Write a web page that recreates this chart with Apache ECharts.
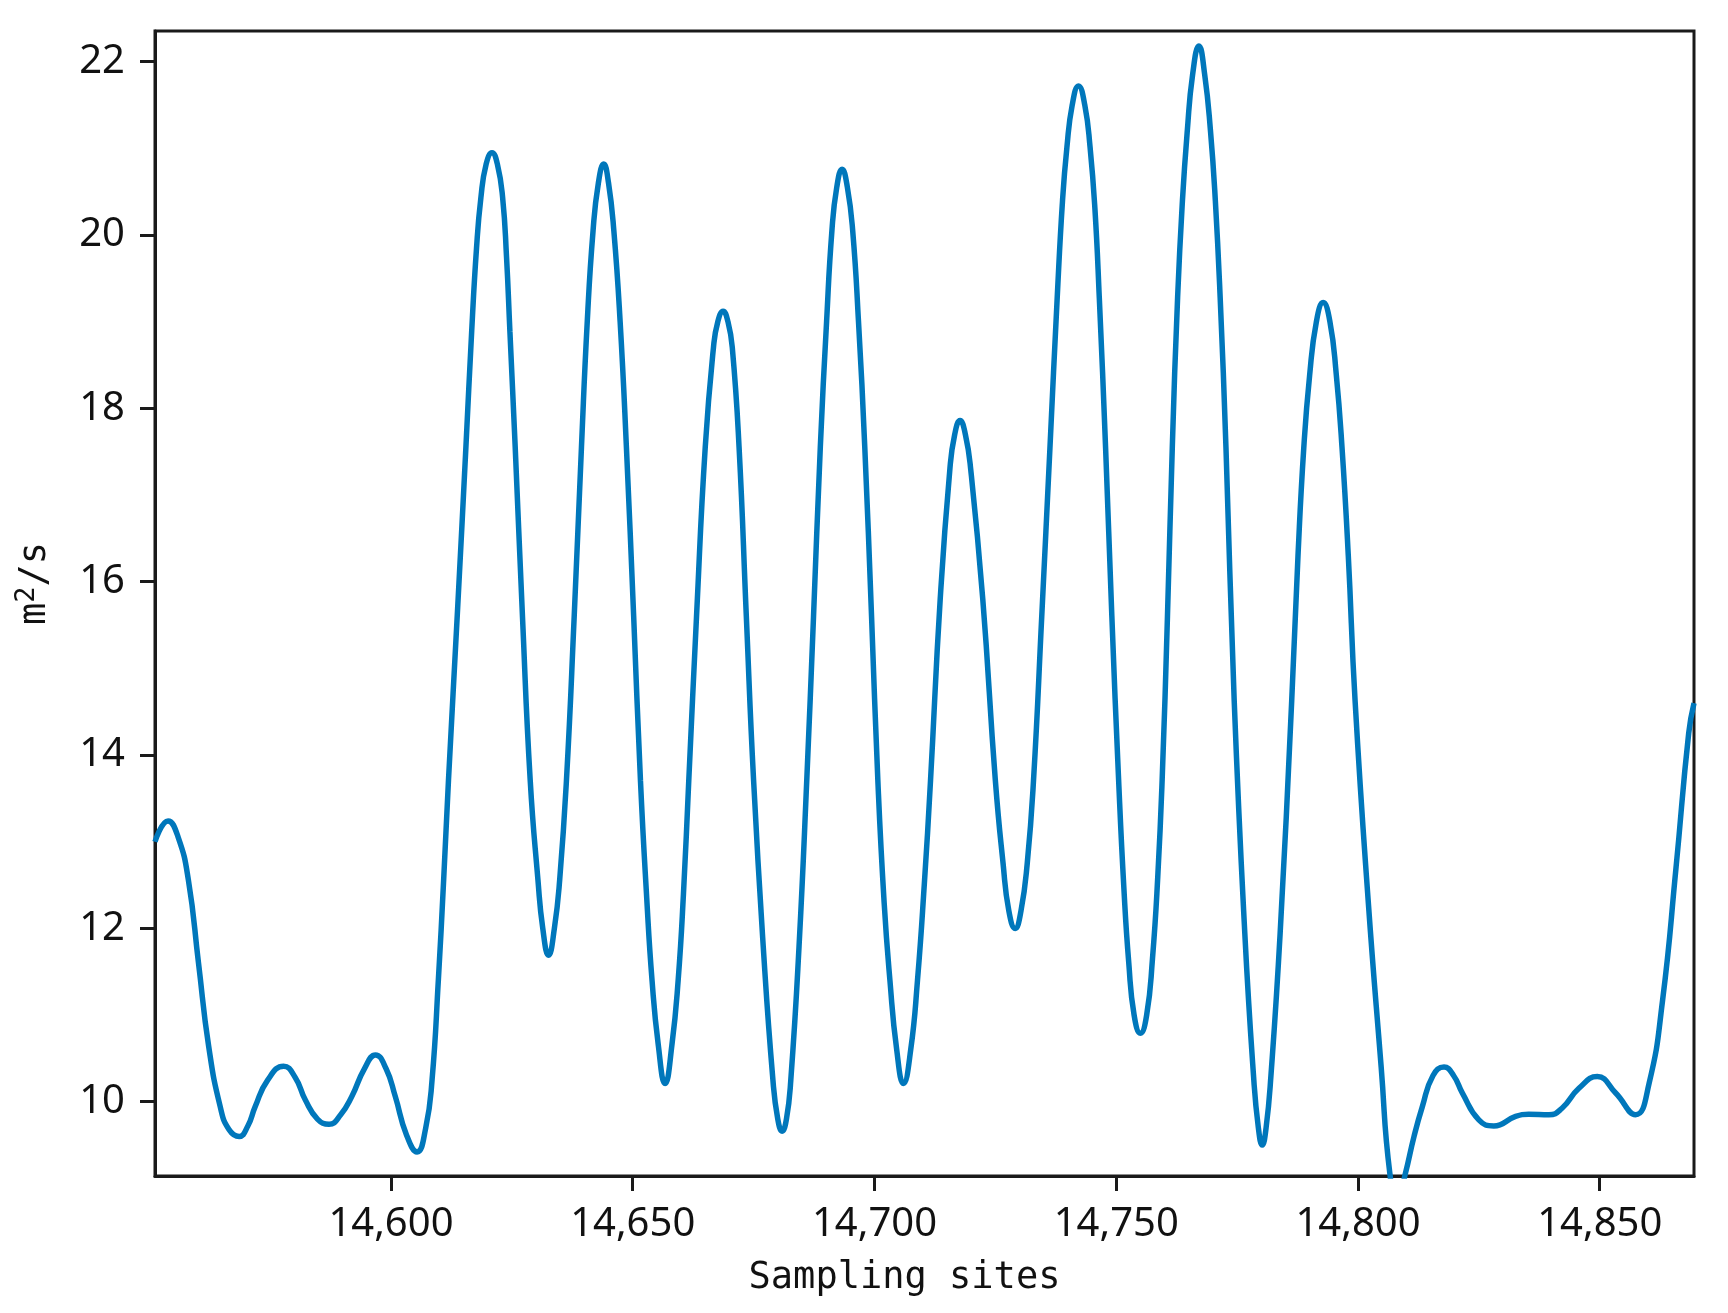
<!DOCTYPE html>
<html>
<head>
  <meta charset="utf-8">
  <title>Sampling sites</title>
  <script src="https://cdn.jsdelivr.net/npm/echarts@6/dist/echarts.min.js"></script>
  <style>
    html, body { margin: 0; padding: 0; background: #fff; }
    #chart { width: 1728px; height: 1313px; }
  </style>
</head>
<body>
<div id="chart"></div>
<script>
  // sampling site positions and the value read at each one (m^2/s)
  var sites = [
    14551.2, 14553.9, 14556.0, 14558.1, 14560.2, 14562.3, 14564.7, 14566.5, 14568.6, 14570.4,
    14571.9, 14574.5, 14577.8, 14580.2, 14582.3, 14584.8, 14587.2, 14589.6, 14591.9, 14594.5,
    14596.8, 14599.0, 14600.9, 14603.2, 14605.4, 14607.2, 14608.5, 14609.8, 14610.9, 14611.9,
    14613.8, 14615.5, 14616.7, 14617.7, 14618.6, 14619.7, 14620.9, 14622.0, 14623.1, 14623.9,
    14624.6, 14625.7, 14627.2, 14628.8, 14630.4, 14631.4, 14632.6, 14633.8, 14634.9, 14636.3,
    14637.9, 14639.4, 14640.6, 14641.8, 14642.9, 14644.0, 14645.0, 14646.1, 14647.4, 14648.7,
    14650.2, 14651.6, 14652.9, 14654.0, 14655.3, 14656.7, 14658.1, 14659.4, 14660.5, 14661.6,
    14663.2, 14665.0, 14666.7, 14667.6, 14668.7, 14669.7, 14670.6, 14672.0, 14673.5, 14675.0,
    14677.0, 14679.0, 14680.0, 14680.9, 14681.8, 14682.7, 14684.4, 14686.0, 14687.4, 14688.8,
    14690.1, 14691.2, 14692.2, 14693.3, 14694.4, 14695.5, 14696.7, 14698.0, 14699.4, 14700.7,
    14702.0, 14703.2, 14704.6, 14706.0, 14707.5, 14708.9, 14710.3, 14711.6, 14713.6, 14715.6,
    14716.6, 14717.7, 14718.8, 14719.9, 14722.4, 14725.0, 14726.6, 14727.8, 14729.1, 14730.3,
    14731.6, 14732.9, 14734.6, 14736.3, 14737.8, 14738.9, 14739.8, 14740.9, 14742.2, 14743.5,
    14744.6, 14745.6, 14746.5, 14747.8, 14749.1, 14750.5, 14751.6, 14752.6, 14753.7, 14755.0,
    14756.3, 14757.5, 14758.6, 14759.5, 14760.6, 14761.6, 14762.7, 14763.7, 14764.7, 14765.8,
    14767.1, 14768.3, 14769.5, 14770.5, 14771.5, 14772.7, 14774.4, 14776.6, 14778.4, 14779.4,
    14780.2, 14781.0, 14782.0, 14783.9, 14786.3, 14787.6, 14788.8, 14790.0, 14791.4, 14792.8,
    14794.2, 14795.5, 14796.7, 14798.0, 14799.4, 14802.1, 14804.8, 14806.6, 14808.2, 14809.8,
    14811.6, 14813.3, 14815.5, 14817.8, 14819.8, 14821.6, 14825.0, 14828.1, 14832.6, 14835.3,
    14839.5, 14842.2, 14845.7, 14849.5, 14853.3, 14857.4, 14860.2, 14863.0, 14865.8, 14868.4,
    14869.5
  ];
  var values = [
    13.00, 13.24, 13.05, 12.56, 11.60, 10.64, 9.94, 9.68, 9.60, 9.72,
    9.94, 10.25, 10.41, 10.28, 10.02, 9.80, 9.74, 9.85, 10.06, 10.38,
    10.54, 10.38, 10.06, 9.62, 9.42, 9.70, 10.25, 11.40, 12.56, 13.71,
    15.70, 17.55, 18.89, 19.85, 20.43, 20.82, 20.95, 20.82, 20.43, 19.75,
    18.89, 17.55, 15.60, 13.71, 12.56, 12.00, 11.69, 12.00, 12.56, 13.71,
    15.60, 17.55, 19.00, 20.05, 20.60, 20.82, 20.60, 20.05, 19.00, 17.55,
    15.60, 13.71, 12.35, 11.40, 10.65, 10.21, 10.65, 11.40, 12.40, 13.71,
    15.60, 17.55, 18.70, 19.00, 19.12, 19.00, 18.70, 17.55, 15.60, 13.71,
    11.79, 10.25, 9.80, 9.66, 9.80, 10.25, 11.79, 13.71, 15.60, 17.55,
    19.00, 20.05, 20.55, 20.76, 20.55, 20.05, 19.00, 17.55, 15.60, 13.71,
    12.30, 11.40, 10.60, 10.21, 10.60, 11.40, 12.50, 13.71, 15.80, 17.30,
    17.70, 17.86, 17.70, 17.30, 15.80, 13.71, 12.75, 12.20, 12.00, 12.20,
    12.75, 13.71, 15.60, 17.55, 19.28, 20.40, 21.01, 21.50, 21.72, 21.50,
    21.01, 20.30, 19.28, 17.55, 15.60, 13.71, 12.45, 11.60, 11.00, 10.79,
    11.00, 11.65, 12.60, 13.71, 15.60, 17.55, 19.28, 20.40, 21.20, 21.85,
    22.18, 21.85, 21.20, 20.40, 19.28, 17.55, 14.63, 11.94, 10.30, 9.70,
    9.50, 9.70, 10.30, 11.94, 14.63, 16.30, 17.55, 18.38, 19.00, 19.22,
    19.00, 18.40, 17.55, 16.30, 14.63, 12.33, 10.40, 9.17, 8.85, 9.17,
    9.60, 9.94, 10.30, 10.40, 10.30, 10.10, 9.79, 9.72, 9.83, 9.855,
    9.85, 9.925, 10.155, 10.29, 10.10, 9.85, 10.21, 11.17, 12.71, 14.25,
    14.60
  ];
  var xTicks = [14600, 14650, 14700, 14750, 14800, 14850];
  var yTicks = [10, 12, 14, 16, 18, 20, 22];

  var lineData = sites.map(function (s, i) { return [s, values[i]]; });

  function thousands(v) {
    return String(v).replace(/\B(?=(\d{3})+(?!\d))/g, ',');
  }

  var myChart = echarts.init(document.getElementById('chart'), null, { renderer: 'canvas' });

  var axisColor = '#1a1a1a';
  var tickFont = { fontFamily: 'Noto Sans', fontSize: 40, color: '#111' };

  var option = {
    backgroundColor: '#fff',
    animation: false,
    grid: {
      left: 155,
      right: 34,
      top: 31,
      bottom: 137,
      show: true,
      borderColor: axisColor,
      borderWidth: 3,
      backgroundColor: 'transparent'
    },
    xAxis: {
      type: 'value',
      min: 14551.2,
      max: 14869.5,
      name: 'Sampling sites',
      nameLocation: 'middle',
      nameGap: 84,
      nameTextStyle: {
        fontFamily: 'DejaVu Sans Mono',
        fontSize: 37,
        color: '#111',
        padding: [0, 40, 0, 0]
      },
      axisLine: { show: true, lineStyle: { color: axisColor, width: 3 } },
      axisTick: {
        show: true,
        inside: false,
        length: 15,
        customValues: xTicks,
        lineStyle: { color: axisColor, width: 3 }
      },
      axisLabel: {
        show: true,
        margin: 29,
        customValues: xTicks,
        formatter: function (v) { return thousands(v); },
        fontFamily: tickFont.fontFamily,
        fontSize: tickFont.fontSize,
        color: tickFont.color
      },
      splitLine: { show: false }
    },
    yAxis: {
      type: 'value',
      min: 9.143,
      max: 22.354,
      name: '{a|m}{b|2}{a|/s}',
      nameLocation: 'middle',
      nameGap: 98,
      nameTextStyle: {
        padding: [0, 0, 0, 40],
        rich: {
          a: { fontFamily: 'DejaVu Sans Mono', fontSize: 37, color: '#111', lineHeight: 44 },
          b: { fontFamily: 'DejaVu Sans Mono', fontSize: 27, color: '#111', lineHeight: 44, verticalAlign: 'top' }
        }
      },
      axisLine: { show: true, lineStyle: { color: axisColor, width: 3 } },
      axisTick: {
        show: true,
        inside: false,
        length: 15,
        customValues: yTicks,
        lineStyle: { color: axisColor, width: 3 }
      },
      axisLabel: {
        show: true,
        margin: 30,
        customValues: yTicks,
        fontFamily: tickFont.fontFamily,
        fontSize: tickFont.fontSize,
        color: tickFont.color
      },
      splitLine: { show: false }
    },
    series: [
      {
        type: 'line',
        data: lineData,
        smooth: 0.5,
        showSymbol: false,
        clip: true,
        lineStyle: { color: '#0077bb', width: 5.5 },
        itemStyle: { color: '#0077bb' }
      }
    ]
  };

  myChart.setOption(option);
</script>
</body>
</html>
